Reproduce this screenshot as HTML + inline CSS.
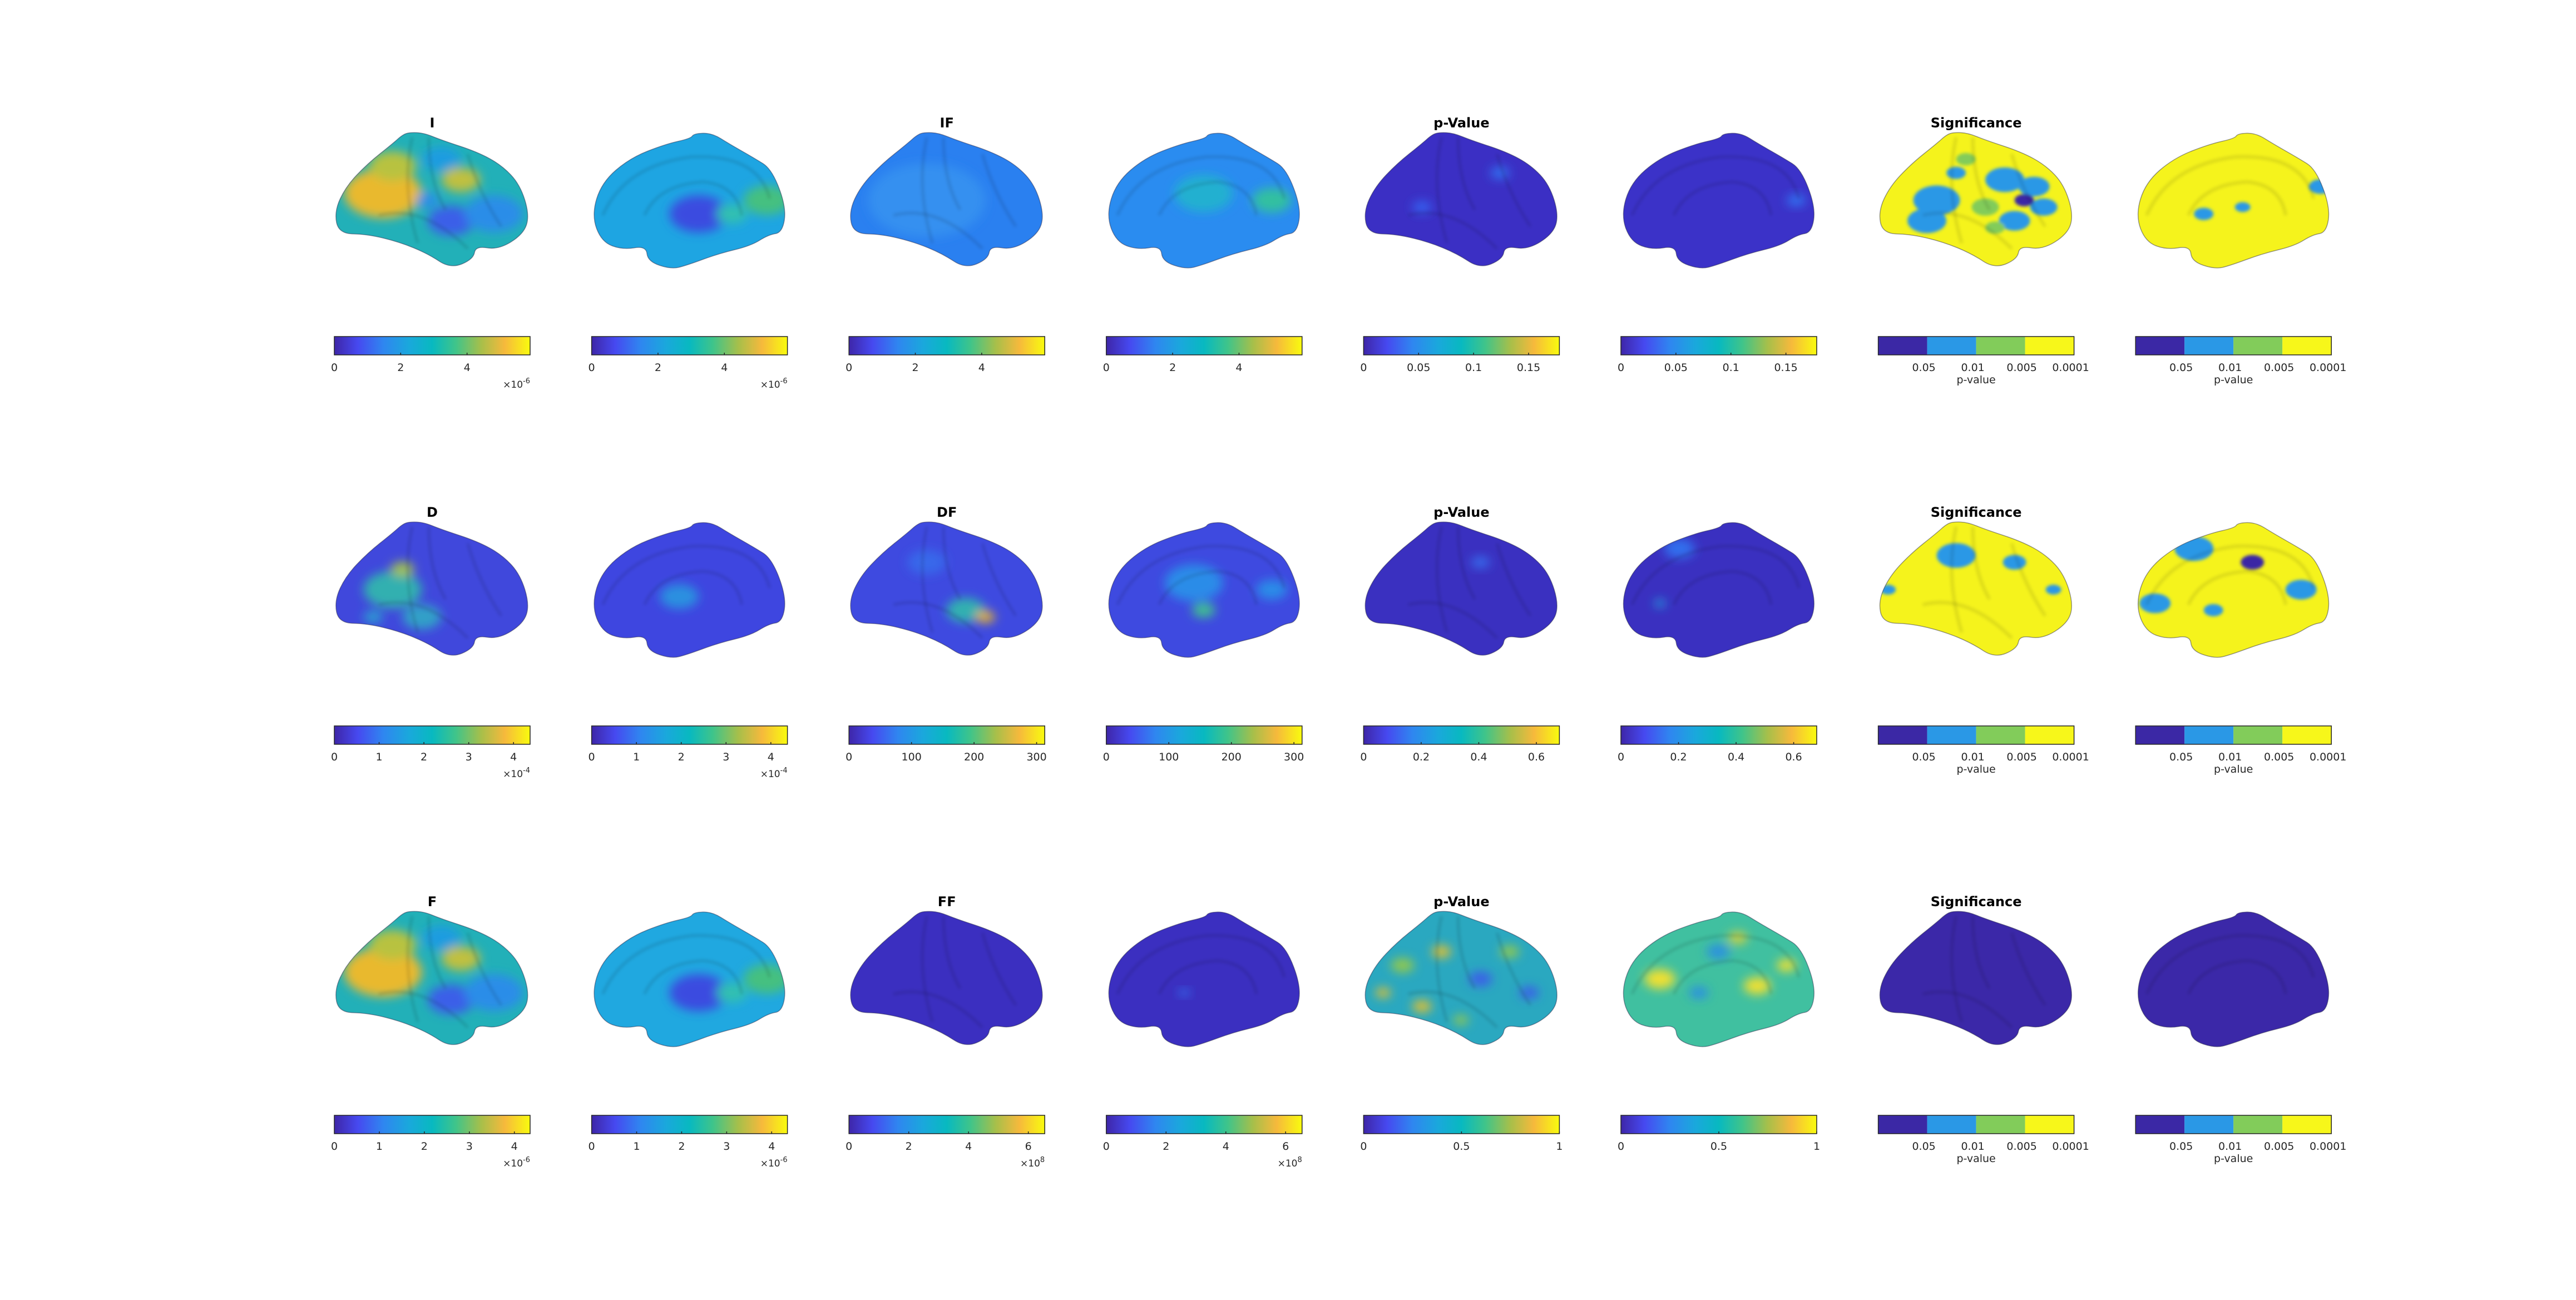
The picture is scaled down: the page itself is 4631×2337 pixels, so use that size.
<!DOCTYPE html>
<html><head><meta charset="utf-8">
<style>
html,body{margin:0;padding:0;background:#fff;}
svg{display:block;}
text{font-family:"DejaVu Sans","Liberation Sans",sans-serif;}
</style></head>
<body>
<svg id="fig" width="4631" height="2337" viewBox="0 0 4631 2337" xmlns="http://www.w3.org/2000/svg">
<defs>
<linearGradient id="parula" x1="0" x2="1" y1="0" y2="0">
<stop offset="0" stop-color="#3e26a8"/><stop offset="0.12" stop-color="#4649f0"/>
<stop offset="0.25" stop-color="#2f86f0"/><stop offset="0.38" stop-color="#1aa8dc"/>
<stop offset="0.5" stop-color="#08b9c0"/><stop offset="0.62" stop-color="#3fc48a"/>
<stop offset="0.75" stop-color="#a7bf4a"/><stop offset="0.87" stop-color="#f6b93c"/>
<stop offset="1" stop-color="#f9fb0e"/></linearGradient>
<filter id="blur" x="-50%" y="-50%" width="200%" height="200%"><feGaussianBlur stdDeviation="9"/></filter>
<filter id="blurS" x="-50%" y="-50%" width="200%" height="200%"><feGaussianBlur stdDeviation="3"/></filter>
</defs>
</svg>
<script>
// ---- data ----
const rowTitles = [["I","IF","p-Value","Significance"],["D","DF","p-Value","Significance"],["F","FF","p-Value","Significance"]];
const barMax = [[5.9,5.9,5.9,5.9,0.178,0.178,0,0],[4.37,4.37,313,313,0.68,0.68,0,0],[4.35,4.35,6.55,6.55,1,1,0,0]];
const barTicks = [[[0,2,4],[0,2,4],[0,2,4],[0,2,4],[0,0.05,0.1,0.15],[0,0.05,0.1,0.15],null,null],
 [[0,1,2,3,4],[0,1,2,3,4],[0,100,200,300],[0,100,200,300],[0,0.2,0.4,0.6],[0,0.2,0.4,0.6],null,null],
 [[0,1,2,3,4],[0,1,2,3,4],[0,2,4,6],[0,2,4,6],[0,0.5,1],[0,0.5,1],null,null]];
const barTickLabels = [[["0","2","4"],["0","2","4"],["0","2","4"],["0","2","4"],["0","0.05","0.1","0.15"],["0","0.05","0.1","0.15"]],
 [["0","1","2","3","4"],["0","1","2","3","4"],["0","100","200","300"],["0","100","200","300"],["0","0.2","0.4","0.6"],["0","0.2","0.4","0.6"]],
 [["0","1","2","3","4"],["0","1","2","3","4"],["0","2","4","6"],["0","2","4","6"],["0","0.5","1"],["0","0.5","1"]]];
const barExp = [["-6","-6",null,null,null,null],["-4","-4",null,null,null,null],["-6","-6","8","8",null,null]];
const sigLabels = ["0.05","0.01","0.005","0.0001"];
const sigColors = ["#3b28a5","#2a98e6","#82cc5a","#f7f71a"];

const SIG_B='#2a98e6',SIG_D='#3b28a5',SIG_G='#82cc5a';
const panels = [
 [ {b:'#22b0b8',k:[[.25,.45,.2,'#e9b92e'],[.3,.25,.12,'#b8c240'],[.55,.2,.1,'#1a9ce0'],[.65,.35,.1,'#c0c040'],[.6,.65,.12,'#3a5ee8'],[.82,.6,.15,'#2a8de8'],[.48,.5,.06,'#2a8de8']]},
   {b:'#1ea5e2',k:[[.9,.5,.12,'#45c080'],[.55,.6,.15,'#3a4be0'],[.72,.6,.08,'#30c0b0']]},
   {b:'#2a80f0',k:[[.4,.5,.3,'#3590f0']]},
   {b:'#2a8cf0',k:[[.5,.45,.15,'#20b0d0'],[.85,.5,.1,'#30c0a0']]},
   {b:'#3b2fc4',k:[[.7,.3,.05,'#3070f0'],[.3,.55,.05,'#3460f0']]},
   {b:'#3b32c8',k:[[.9,.5,.05,'#3070f0']]},
   {b:'#f5f31c',s:1,k:[[.3,.5,.12,SIG_B],[.25,.65,.1,SIG_B],[.65,.35,.1,SIG_B],[.8,.4,.08,SIG_B],[.85,.55,.07,SIG_B],[.55,.55,.07,SIG_G],[.75,.5,.05,SIG_D],[.4,.3,.05,SIG_B],[.7,.65,.08,SIG_B],[.45,.2,.05,SIG_G],[.6,.7,.05,SIG_G]]},
   {b:'#f5f31c',s:1,k:[[.95,.4,.06,SIG_B],[.35,.6,.05,SIG_B],[.55,.55,.04,SIG_B]]} ],
 [ {b:'#4048dc',k:[[.3,.5,.15,'#30b0b0'],[.35,.35,.06,'#a0c050'],[.45,.7,.1,'#30a0c8'],[.2,.7,.05,'#2aa0d0']]},
   {b:'#3e46e0',k:[[.45,.55,.1,'#2a90e0']]},
   {b:'#3e4ae0',k:[[.6,.65,.1,'#30b0b0'],[.7,.7,.05,'#e0b030'],[.4,.3,.1,'#3868ea']]},
   {b:'#3e4ae0',k:[[.45,.45,.15,'#2a8ce8'],[.5,.65,.06,'#40c090'],[.85,.5,.08,'#2a8ce8']]},
   {b:'#3a30c0',k:[[.6,.3,.05,'#3868ea']]},
   {b:'#3a30c0',k:[[.3,.2,.08,'#3070ee'],[.2,.6,.03,'#20a0e0']]},
   {b:'#f5f31c',s:1,k:[[.4,.25,.1,SIG_B],[.7,.3,.06,SIG_B],[.05,.5,.04,SIG_B],[.9,.5,.04,SIG_B]]},
   {b:'#f5f31c',s:1,k:[[.1,.6,.08,SIG_B],[.3,.2,.1,SIG_B],[.6,.3,.06,SIG_D],[.85,.5,.08,SIG_B],[.4,.65,.05,SIG_B]]} ],
 [ {b:'#22b0b8',k:[[.25,.45,.2,'#e9b92e'],[.3,.25,.12,'#b8c240'],[.55,.2,.1,'#1a9ce0'],[.65,.35,.1,'#c0c040'],[.6,.65,.12,'#3a5ee8'],[.82,.6,.15,'#2a8de8']]},
   {b:'#20a8e0',k:[[.9,.5,.12,'#45c080'],[.55,.6,.15,'#3a4be0'],[.72,.6,.08,'#30c0b0']]},
   {b:'#3b2fc0',k:[]},
   {b:'#3b2fc0',k:[[.4,.6,.03,'#3070f0']]},
   {b:'#2aa8c0',k:[[.2,.4,.06,'#90c850'],[.4,.3,.05,'#e0c030'],[.6,.5,.06,'#3a5ee8'],[.75,.3,.05,'#90c850'],[.3,.7,.05,'#e0c030'],[.85,.6,.05,'#3a5ee8'],[.5,.8,.04,'#90c850'],[.1,.6,.04,'#e0c030']]},
   {b:'#40c0a0',k:[[.2,.5,.08,'#f0e030'],[.5,.3,.06,'#2a90e0'],[.7,.55,.07,'#f0e030'],[.4,.6,.05,'#2a90e0'],[.85,.4,.05,'#f0e030'],[.6,.2,.05,'#d0d040']]},
   {b:'#3b28a8',k:[]},
   {b:'#3b28a8',k:[]} ] ];

// ---- geometry ----
const lat=[[123,5],[136,1],[161,2],[193,15],[257,36],[301,60],[334,95],[351,150],[340,184],[295,212],[254,205],[250,229],[209,246],[168,219],[117,198],[59,184],[8,183],[0,143],[21,98],[60,57],[104,22]];
const med=[[178,12],[184,3],[216,2],[248,22],[292,47],[324,67],[350,136],[343,181],[318,185],[286,205],[228,219],[171,240],[143,247],[101,233],[98,205],[56,212],[18,198],[0,150],[18,91],[69,47],[133,22]];
const NS='http://www.w3.org/2000/svg';
const svg=document.getElementById('fig');
function el(t,a,p){const e=document.createElementNS(NS,t);for(const k in a)e.setAttribute(k,a[k]);(p||svg).appendChild(e);return e;}
function smooth(pts){let d='';const n=pts.length;for(let i=0;i<n;i++){const p=pts[i],q=pts[(i+1)%n];const m=[(p[0]+q[0])/2,(p[1]+q[1])/2];if(i===0){const l=pts[n-1];d+='M'+((l[0]+p[0])/2)+','+((l[1]+p[1])/2);}d+=' Q'+p[0]+','+p[1]+' '+m[0]+','+m[1];}return d+'Z';}
const colCenter=c=>777+c*462.6;
const rowTop=r=>r*700;
const BW=352;
const xScale=(v,max,x0)=>x0+v/max*BW;

for(let r=0;r<3;r++){
 for(let c=0;c<8;c++){
  const cx=colCenter(c), x0=cx-176, y0=rowTop(r);
  const P=panels[r][c], isMed=c%2===1;
  const g=el('g',{transform:`translate(${x0},${y0+237})`});
  
  
  const id=`clip${r}_${c}`;
  const cp=el('clipPath',{id:id},g);
  const d=smooth(isMed?med:lat);
  el('path',{d:d},cp);
  const inner=el('g',{'clip-path':`url(#${id})`},g);
  el('rect',{x:-5,y:-5,width:362,height:258,fill:P.b},inner);
  const bg=el('g',{filter:P.s?'url(#blurS)':'url(#blur)'},inner);
  P.k.forEach(k=>el('ellipse',{cx:k[0]*350,cy:k[1]*246,rx:k[2]*350,ry:k[2]*246*0.9,fill:k[3]},bg));
  const sh=el('g',{fill:'none',stroke:'#000','stroke-opacity':0.12,'stroke-width':5,filter:'url(#blurS)'},inner);
  if(isMed){el('path',{d:'M20,150 Q60,60 180,45 Q300,40 320,120'},sh);el('path',{d:'M95,150 Q120,95 200,90 Q260,95 270,150'},sh);}
  else{el('path',{d:'M140,10 Q120,100 150,200'},sh);el('path',{d:'M170,10 Q170,90 200,140'},sh);el('path',{d:'M80,150 Q160,130 240,210'},sh);el('path',{d:'M240,40 Q260,110 300,170'},sh);}
  el('path',{d:d,fill:'none',stroke:'#202040','stroke-opacity':0.45,'stroke-width':1.5},g);

  const by=y0+605, bh=33;
  if(c<6){
   const bar=el('rect',{x:x0,y:by,width:BW,height:bh,fill:'url(#parula)',stroke:'#262626','stroke-width':1.5});
   
   
   const ticks=barTicks[r][c],labs=barTickLabels[r][c],mx=barMax[r][c];
   ticks.forEach((v,i)=>{
    const x=xScale(v,mx,x0);
    if(v>0) el('line',{x1:x,x2:x,y1:by+bh,y2:by+bh-4,stroke:'#262626','stroke-width':1.5});
    const t=el('text',{x:x,y:by+62,'font-size':19,'text-anchor':'middle',fill:'#262626'});
    t.textContent=labs[i];
    
    
   });
   if(barExp[r][c]){
    const t=el('text',{x:x0+BW,y:by+92,'font-size':17,'text-anchor':'end',fill:'#262626'});
    t.innerHTML='×10<tspan dy="-8" font-size="13">'+barExp[r][c]+'</tspan>';
    
    
   }
  } else {
   const sg=el('g',{});
   
   
   sigColors.forEach((col,i)=>el('rect',{x:x0+i*BW/4,y:by,width:BW/4,height:bh,fill:col},sg));
   el('rect',{x:x0,y:by,width:BW,height:bh,fill:'none',stroke:'#262626','stroke-width':1.5},sg);
   sigLabels.forEach((s,i)=>{
    const t=el('text',{x:x0+(i+1)*BW/4-6,y:by+62,'font-size':19,'text-anchor':'middle',fill:'#262626'},sg);
    t.textContent=s;
   });
   const pl=el('text',{x:cx,y:by+84,'font-size':19,'text-anchor':'middle',fill:'#262626'},sg);
   pl.textContent='p-value';
  }
  if(!isMed){
   const t=el('text',{x:cx,y:y0+229,'font-size':24,'font-weight':'bold','text-anchor':'middle',fill:'#000'});
   t.textContent=rowTitles[r][c/2];
   
   
  }
 }
}
</script>
</body></html>
